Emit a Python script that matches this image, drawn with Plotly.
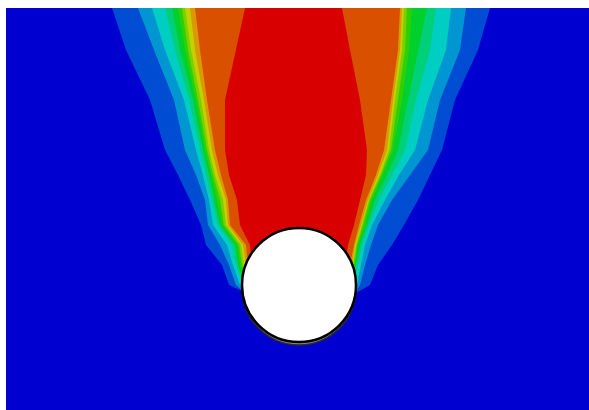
import plotly.graph_objects as go

# Contour level colours (outer -> inner), 12-band rainbow spectrum
level_colors = ["#0000D0", "#004CD2", "#0096D2", "#00CEC2", "#00D07A", "#00D02E",
                "#2ED000", "#7AD000", "#C4D000", "#D89A00", "#D85000", "#D80000"]

# Rows (image-pixel depth, downward) at which band edges were read
row_y = [8, 50, 100, 150, 175, 200, 225, 245, 265, 285]

# Left-side x position where each band (level 1..11) begins
left_edges = [
    [112, 126, 150, 165, 178, 190, 201, 206, 222, 229],
    [138, 154, 174, 185, 196, 205, 208, 220, 229, 236],
    [152, 165, 184, 196, 203, 209, 213, 227, 233, 240],
    [165, 175, 189, 200, 206, 212, 218, 232, 236, 243],
    [172, 180, 193, 203, 209, 214, 220, 235, 238, 245],
    [178, 185, 196, 205, 211, 217, 222, 237, 240, 247],
    [182, 188, 198, 207, 213, 220, 224, 239, 242, 248],
    [185, 191, 201, 209, 215, 223, 226, 241, 244, 250],
    [190, 195, 204, 212, 218, 226, 228, 243, 246, 251],
    [195, 200, 207, 215, 221, 228, 230, 246, 248, 252],
    [245, 236, 225, 225, 229, 237, 240, 250, 252, 253],
]

# Right-side x position where each band (level 1..11) ends
right_edges = [
    [490, 478, 455, 442, 430, 418, 404, 392, 378, 370],
    [466, 460, 440, 428, 410, 392, 378, 371, 365, 360],
    [451, 446, 428, 415, 399, 385, 372, 365, 361, 357],
    [436, 430, 416, 405, 392, 379, 369, 362, 358, 354],
    [427, 418, 408, 398, 387, 375, 367, 360, 356, 352],
    [412, 409, 402, 393, 383, 372, 365, 358, 355, 350],
    [407, 405, 398, 391, 381, 370, 363, 357, 354, 349],
    [404, 402, 395, 389, 380, 369, 362, 356, 353, 348],
    [402, 400, 393, 387, 378, 368, 361, 355, 352, 347],
    [400, 398, 391, 384, 376, 366, 359, 354, 350, 346],
    [342, 350, 360, 367, 366, 360, 354, 348, 345, 340],
]

# Cylinder
circle_cx, circle_cy, circle_r = 299, 285, 57
tip_left = (244, 292)
tip_right = (354, 294)

fig = go.Figure()
for k in range(len(left_edges)):
    xs = left_edges[k] + [tip_left[0], circle_cx, tip_right[0]] + right_edges[k][::-1]
    ys = row_y + [tip_left[1], circle_cy, tip_right[1]] + row_y[::-1]
    fig.add_trace(go.Scatter(
        x=xs, y=ys, mode="lines", fill="toself",
        fillcolor=level_colors[k + 1], line=dict(width=0, color=level_colors[k + 1]),
        hoverinfo="skip", showlegend=False))

fig.add_shape(type="circle", xref="x", yref="y",
              x0=circle_cx - circle_r, x1=circle_cx + circle_r,
              y0=circle_cy - circle_r + 3, y1=circle_cy + circle_r + 3,
              fillcolor="#8a8a8a", line=dict(color="#2a2a2a", width=1.5))
fig.add_shape(type="circle", xref="x", yref="y",
              x0=circle_cx - circle_r, x1=circle_cx + circle_r,
              y0=circle_cy - circle_r, y1=circle_cy + circle_r,
              fillcolor="white", line=dict(color="black", width=2.5))

fig.update_xaxes(range=[6, 589], visible=False, showgrid=False, zeroline=False)
fig.update_yaxes(range=[410, 8], visible=False, showgrid=False, zeroline=False)
fig.update_layout(width=589, height=410, margin=dict(l=6, r=0, t=8, b=0),
                  plot_bgcolor=level_colors[0], paper_bgcolor="white")

fig.write_html("out.html")
